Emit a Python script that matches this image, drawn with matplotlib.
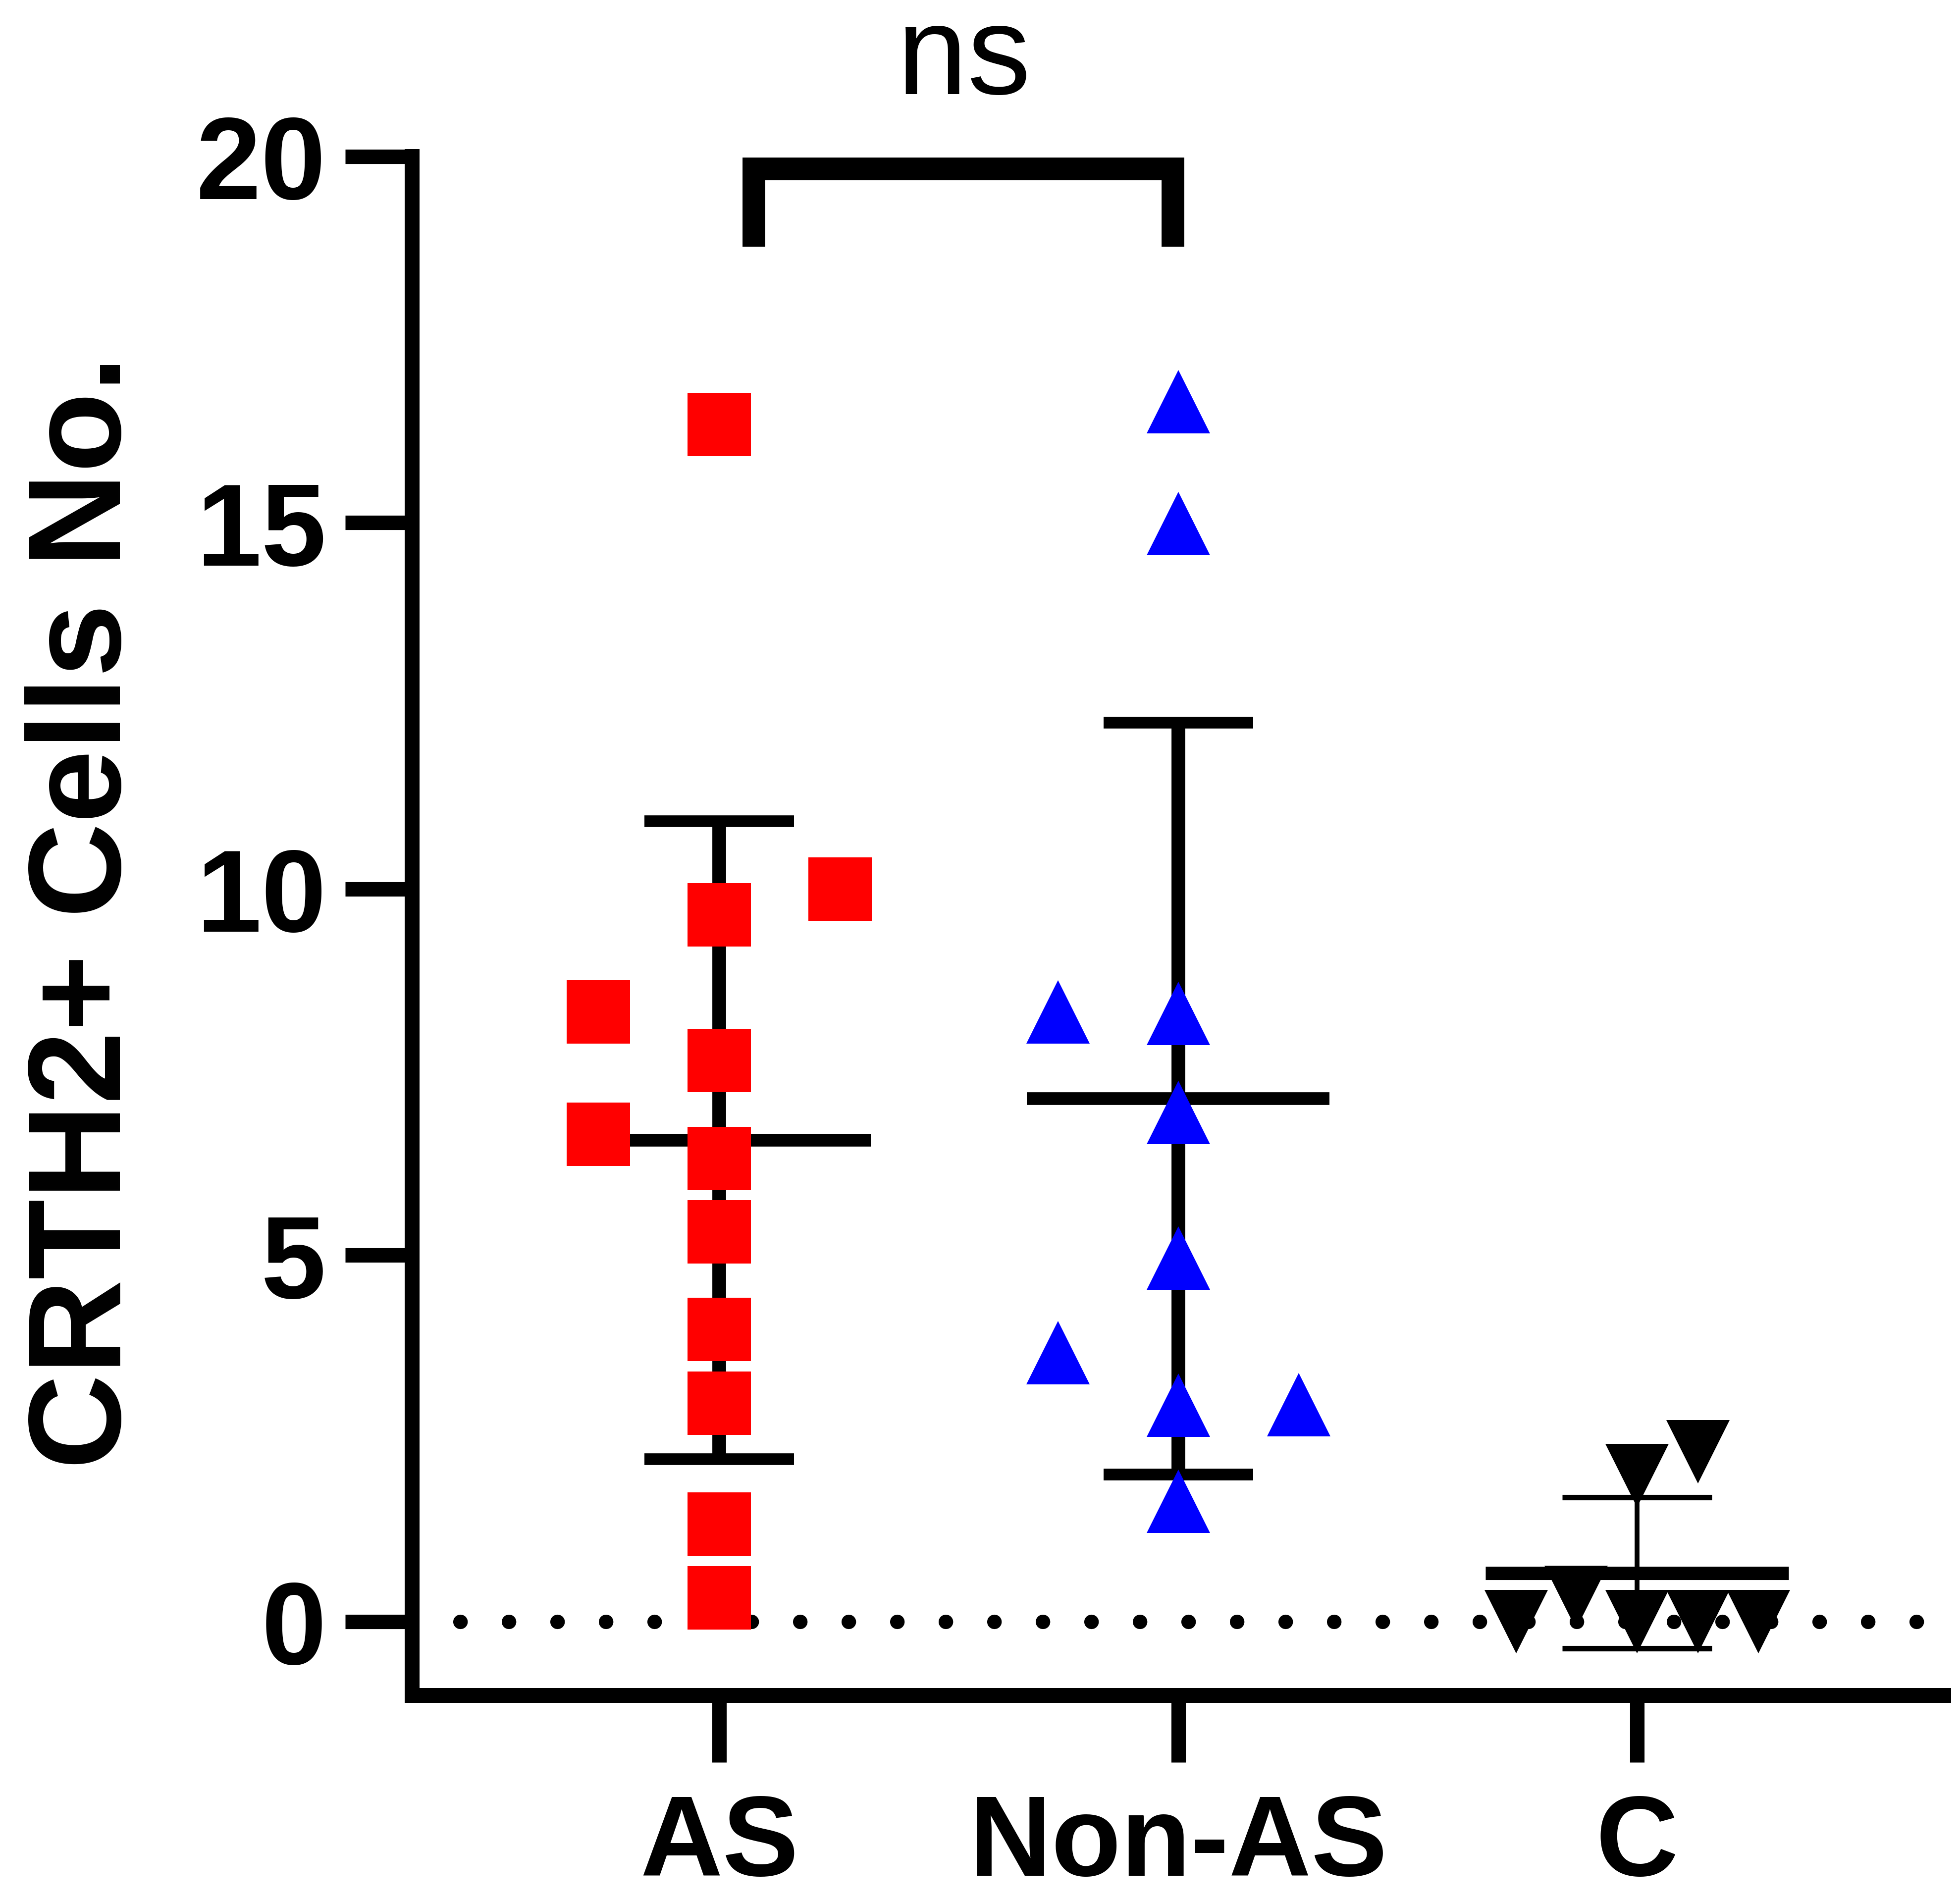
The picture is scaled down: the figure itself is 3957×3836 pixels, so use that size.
import numpy as np
import matplotlib
matplotlib.use("Agg")
import matplotlib.pyplot as plt

# values
groups = ["AS", "Non-AS", "C"]

as_vals = [16.34, 10.0, 9.65, 8.32, 7.66, 6.65, 6.32, 5.32, 3.99, 2.98, 1.33, 0.32]
as_offset = [0, 0.263, 0, -0.263, 0, -0.263, 0, 0, 0, 0, 0, 0]

nonas_vals = [16.65, 14.99, 8.32, 8.30, 6.95, 4.96, 3.67, 2.95, 2.96, 1.64]
nonas_offset = [0, 0, -0.262, 0, 0, 0, -0.262, 0, 0.263, 0]

c_vals = [2.32, 1.99, 0.33, 0, 0, 0, 0]
c_offset = [0.133, 0, -0.133, -0.264, 0, 0.133, 0.264]

yticks = [0, 5, 10, 15, 20]
ylabel = "CRTH2+ Cells No."
sig_label = "ns"

plt.rcParams['font.family'] = ['Liberation Sans', 'DejaVu Sans']
plt.rcParams['font.weight'] = 'bold'

fig = plt.figure(figsize=(39.57, 38.37), dpi=100)
ax = fig.add_axes([0.2103, 0.1076, 0.9917 - 0.2103, 0.9174 - 0.1076])

# dotted zero line
ax.plot([-0.565, 2.62], [0, 0], color='black', lw=21, dashes=(0.01, 3.35),
        dash_capstyle='round', zorder=1)

data = [as_vals, nonas_vals, c_vals]
offsets = [as_offset, nonas_offset, c_offset]
markers = ['s', '^', 'v']
colors = ['#ff0000', '#0000ff', '#000000']
# (vertical lw, cap lw, mean lw)
lws = [(20, 17, 18.5), (20, 17, 18.5), (7, 8, 19.5)]

for i, vals in enumerate(data):
    vals = np.array(vals)
    m = vals.mean()
    s = vals.std(ddof=1)
    vlw, clw, mlw = lws[i]
    ax.plot([i, i], [m - s, m + s], color='black', lw=vlw, solid_capstyle='butt', zorder=2)
    for y in (m - s, m + s):
        ax.plot([i - 0.163, i + 0.163], [y, y], color='black', lw=clw,
                solid_capstyle='butt', zorder=2)
    ax.plot([i - 0.33, i + 0.33], [m, m], color='black', lw=mlw,
            solid_capstyle='butt', zorder=2)
    xs = i + np.array(offsets[i])
    ax.plot(xs, vals, ls='none', marker=markers[i], ms=91.5, mew=0,
            color=colors[i], zorder=3, clip_on=False)

# significance bracket
ax.plot([0.0756, 0.0756, 0.989, 0.989], [18.77, 19.83, 19.83, 18.77],
        color='black', lw=33, solid_joinstyle='miter', solid_capstyle='butt',
        clip_on=False)
ax.text(0.533, 20.86, sig_label, ha='center', va='baseline', fontsize=184,
        fontweight='normal', clip_on=False)

ax.set_xlim(-0.669, 2.668)
ax.set_ylim(-1.01, 20)
ax.set_yticks(yticks)
ax.set_yticklabels([str(t) for t in yticks])
ax.set_xticks(range(len(groups)))
ax.set_xticklabels(groups)

for side in ['top', 'right']:
    ax.spines[side].set_visible(False)
for side in ['left', 'bottom']:
    ax.spines[side].set_linewidth(21.6)

ax.tick_params(axis='both', length=97, width=21, direction='out')
ax.tick_params(axis='y', pad=28, labelsize=170)
ax.tick_params(axis='x', pad=44, labelsize=166)

fig.text(50 / 3957, 0.52, ylabel, rotation=90, ha='left', va='center',
         fontsize=191, fontweight='bold')

fig.savefig("out.png", dpi=100)
